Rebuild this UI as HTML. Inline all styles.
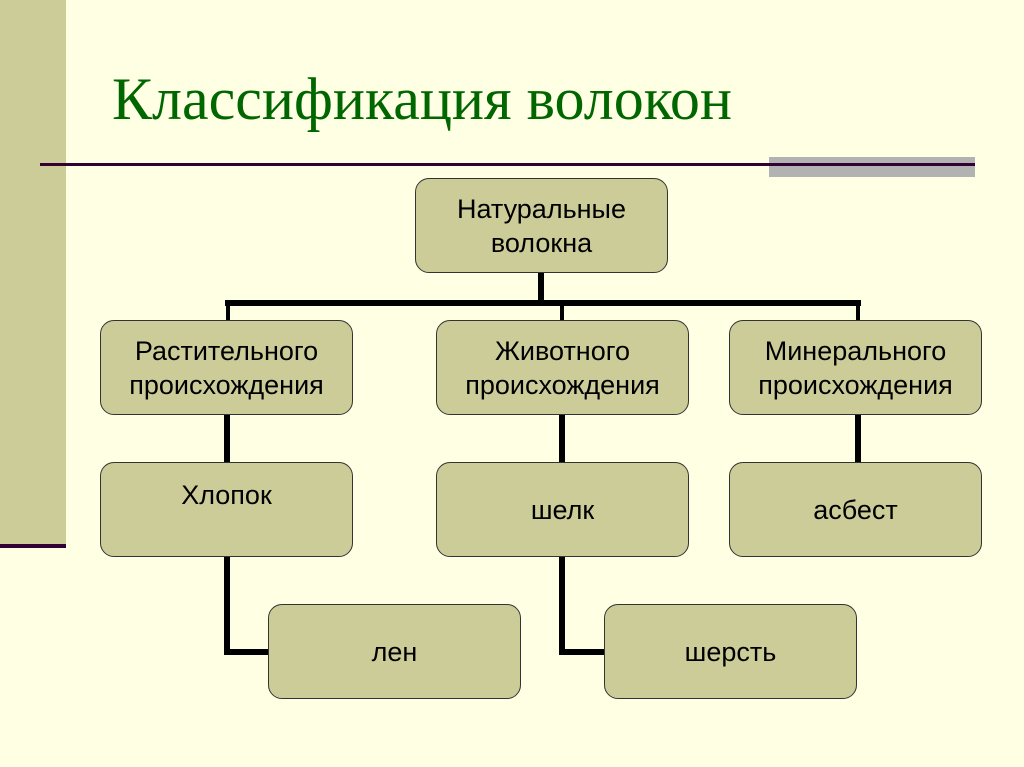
<!DOCTYPE html>
<html><head><meta charset="utf-8"><style>
body{margin:0;width:1024px;height:767px;background:#ffffe3;position:relative;overflow:hidden;font-family:"Liberation Sans",sans-serif}
.a{position:absolute}
.b{position:absolute;width:253px;height:95px;background:#cccc99;border:1.5px solid #333;border-radius:14px;box-sizing:border-box;display:flex;justify-content:center;text-align:center;font-size:27px;line-height:34px;color:#000;white-space:nowrap}
.k{position:absolute;background:#000}
</style></head><body>
<div class="a" style="left:0;top:0;width:66px;height:545px;background:#cccc99"></div>
<div class="a" style="left:0;top:544px;width:66px;height:4px;background:#330033"></div>
<div class="a" style="left:769px;top:157px;width:206px;height:20px;background:#b2b2b2"></div>
<div class="a" style="left:40px;top:163px;width:935px;height:3px;background:#330033"></div>
<div class="a" style="left:112px;top:64px;font-family:'Liberation Serif',serif;font-size:60px;color:#006600;line-height:70px">Классификация волокон</div>

<div class="k" style="left:538px;top:272px;width:6px;height:34px"></div>
<div class="k" style="left:225px;top:300px;width:636px;height:6px"></div>
<div class="k" style="left:226px;top:303px;width:4px;height:18px"></div>
<div class="k" style="left:560px;top:303px;width:4px;height:18px"></div>
<div class="k" style="left:856px;top:303px;width:4px;height:18px"></div>
<div class="k" style="left:224px;top:413px;width:6px;height:50px"></div>
<div class="k" style="left:559px;top:413px;width:6px;height:50px"></div>
<div class="k" style="left:855px;top:413px;width:6px;height:50px"></div>
<div class="k" style="left:224px;top:555px;width:6px;height:100px"></div>
<div class="k" style="left:224px;top:649px;width:46px;height:6px"></div>
<div class="k" style="left:559px;top:555px;width:6px;height:100px"></div>
<div class="k" style="left:559px;top:649px;width:46px;height:6px"></div>

<div class="b" style="left:415px;top:178px;align-items:center">Натуральные<br>волокна</div>
<div class="b" style="left:100px;top:320px;align-items:center">Растительного<br>происхождения</div>
<div class="b" style="left:436px;top:320px;align-items:center">Животного<br>происхождения</div>
<div class="b" style="left:729px;top:320px;align-items:center">Минерального<br>происхождения</div>
<div class="b" style="left:100px;top:462px;padding-top:15px">Хлопок</div>
<div class="b" style="left:436px;top:462px;align-items:center">шелк</div>
<div class="b" style="left:729px;top:462px;align-items:center">асбест</div>
<div class="b" style="left:268px;top:604px;align-items:center">лен</div>
<div class="b" style="left:604px;top:604px;align-items:center">шерсть</div>
</body></html>
